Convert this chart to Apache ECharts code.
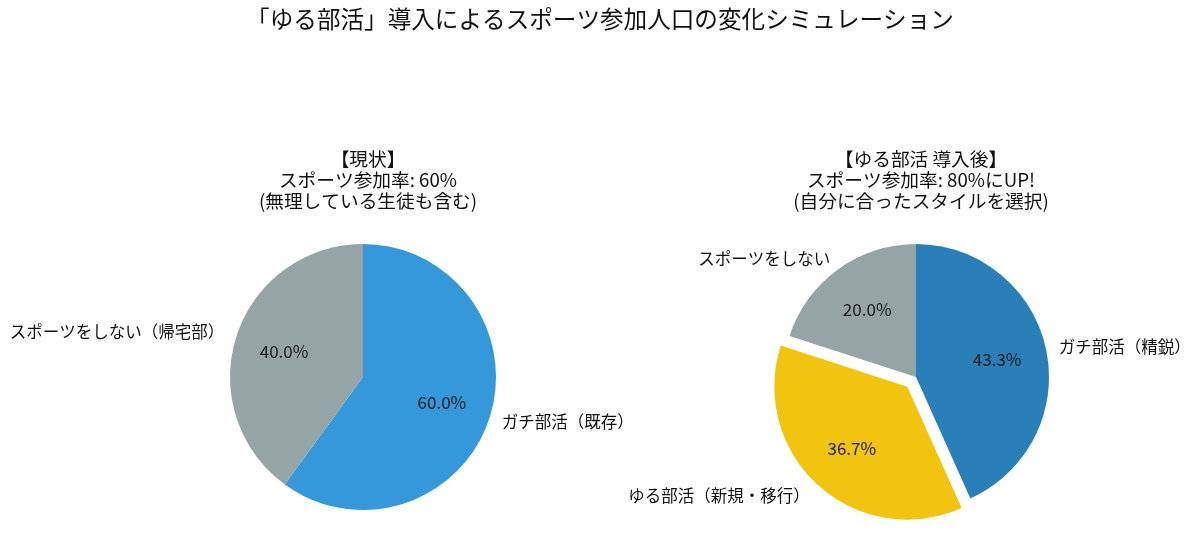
<!DOCTYPE html>
<html>
<head>
    <meta charset="utf-8">
    <title>ゆる部活 導入シミュレーション</title>
    <style>
    html, body { margin: 0; padding: 0; background: #fff; }
    #main { width: 1200px; height: 552px; }
    </style>
    <script type="text/javascript" src="https://cdn.jsdelivr.net/npm/echarts@6/dist/echarts.min.js"></script>
</head>
<body>
    <div id="main"></div>
    <script>
    // 現状
    var currentNames = ['ガチ部活（既存）', 'スポーツをしない（帰宅部）'];
    var currentValues = [60, 40];
    var currentColors = ['#3498db', '#95a5a6'];

    // ゆる部活 導入後
    var afterNames = ['ガチ部活（精鋭）', 'ゆる部活（新規・移行）', 'スポーツをしない'];
    var afterValues = [43.3, 36.7, 20.0];
    var afterColors = ['#2980b9', '#f1c40f', '#95a5a6'];
    var afterExplode = [false, true, false];

    var FONT = 'Noto Sans CJK JP';
    var R = 133;

    function buildData(names, values, colors, explode) {
        return names.map(function (n, i) {
            return {
                name: n,
                value: values[i],
                selected: explode ? explode[i] : false,
                itemStyle: { color: colors[i] }
            };
        });
    }

    // 外側のカテゴリ名ラベル（半径 1.1 倍の位置）
    function nameSeries(center, names, values, colors, explode) {
        return {
            type: 'pie',
            center: center,
            radius: [0, R],
            startAngle: 90,
            clockwise: true,
            silent: true,
            avoidLabelOverlap: false,
            selectedMode: 'multiple',
            selectedOffset: 13,
            select: { itemStyle: { borderWidth: 0 } },
            label: {
                show: true,
                position: 'outside',
                distanceToLabelLine: 0,
                fontFamily: FONT,
                fontSize: 16.5,
                color: '#111'
            },
            labelLine: { show: false, length: 13, length2: 0 },
            data: buildData(names, values, colors, explode)
        };
    }

    // 割合ラベル（半径 0.6 倍の位置）
    function pctSeries(center, names, values, explode) {
        return {
            type: 'pie',
            center: center,
            radius: [27, R],
            startAngle: 90,
            clockwise: true,
            silent: true,
            avoidLabelOverlap: false,
            selectedMode: 'multiple',
            selectedOffset: 13,
            select: { itemStyle: { borderWidth: 0, color: 'rgba(0,0,0,0)' } },
            itemStyle: { color: 'rgba(0,0,0,0)' },
            label: {
                show: true,
                position: 'inside',
                fontFamily: FONT,
                fontSize: 17,
                color: '#1a1a1a',
                formatter: function (p) { return p.percent.toFixed(1) + '%'; }
            },
            labelLine: { show: false },
            data: names.map(function (n, i) {
                return { name: n, value: values[i], selected: explode ? explode[i] : false };
            })
        };
    }

    var option = {
        backgroundColor: '#fff',
        animation: false,
        title: [{
            text: '「ゆる部活」導入によるスポーツ参加人口の変化シミュレーション',
            left: 'center',
            top: 2,
            textStyle: { fontFamily: FONT, fontSize: 23.6, fontWeight: 'normal', color: '#111' }
        }, {
            text: '【現状】\nスポーツ参加率: 60%\n(無理している生徒も含む)',
            left: 363,
            top: 143,
            textAlign: 'center',
            textStyle: { fontFamily: FONT, fontSize: 18.7, lineHeight: 21, fontWeight: 'normal', color: '#111', align: 'center' }
        }, {
            text: '【ゆる部活 導入後】\nスポーツ参加率: 80%にUP!\n(自分に合ったスタイルを選択)',
            left: 916,
            top: 143,
            textAlign: 'center',
            textStyle: { fontFamily: FONT, fontSize: 18.7, lineHeight: 21, fontWeight: 'normal', color: '#111', align: 'center' }
        }],
        series: [
            nameSeries([363, 377], currentNames, currentValues, currentColors, null),
            pctSeries([363, 377], currentNames, currentValues, null),
            nameSeries([916, 377], afterNames, afterValues, afterColors, afterExplode),
            pctSeries([916, 377], afterNames, afterValues, afterExplode)
        ]
    };

    var myChart = echarts.init(document.getElementById('main'));
    myChart.setOption(option);
    </script>
</body>
</html>
